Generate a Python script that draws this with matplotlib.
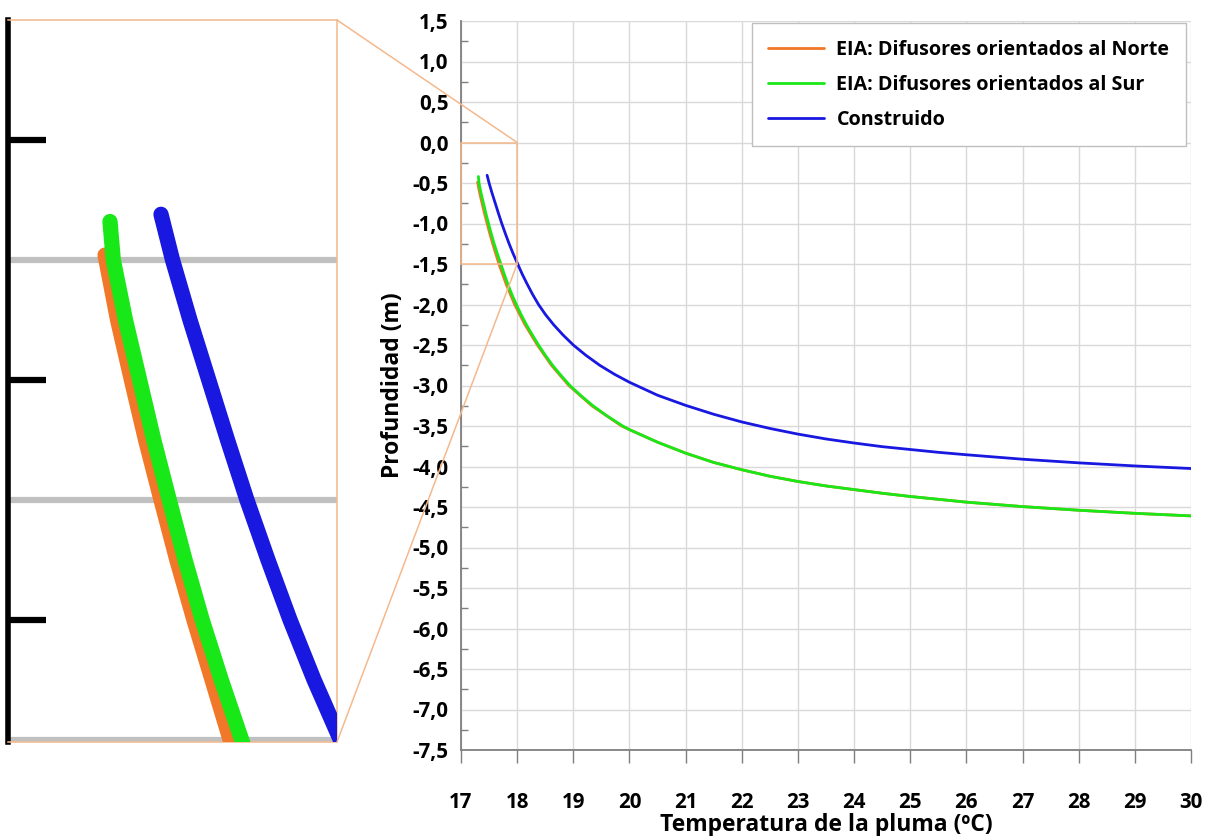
import matplotlib
matplotlib.use("Agg")
import matplotlib.pyplot as plt
from matplotlib.ticker import MultipleLocator, FixedLocator, FuncFormatter
from matplotlib.patches import Rectangle, ConnectionPatch
import numpy as np

plt.rcParams['font.family'] = ['Open Sans', 'DejaVu Sans']

# ---------------- data ----------------
norte_x = [17.295, 17.333, 17.375, 17.418, 17.465, 17.513, 17.565, 17.62, 17.675,
           17.805, 17.955, 18.14, 18.36, 18.61, 18.92, 19.33, 19.86, 20.0, 20.5,
           21.0, 21.5, 22.0, 22.5, 23.0, 23.5, 24.0, 24.5, 25.0, 25.5, 26.0,
           27.0, 28.0, 29.0, 30.0]
norte_y = [-0.49, -0.625, -0.75, -0.875, -1.00, -1.125, -1.25, -1.375, -1.50,
           -1.75, -2.00, -2.25, -2.50, -2.75, -3.00, -3.25, -3.50, -3.545, -3.70,
           -3.835, -3.95, -4.04, -4.12, -4.185, -4.24, -4.285, -4.33, -4.37, -4.405, -4.44,
           -4.495, -4.54, -4.578, -4.61]

sur_x = [17.31, 17.32, 17.357, 17.40, 17.443, 17.49, 17.538, 17.59, 17.648, 17.71,
         17.77, 17.835, 17.905, 17.985, 18.07, 18.165, 18.27, 18.38, 18.50, 18.63,
         18.78, 18.94, 19.135, 19.35, 19.60, 19.88, 20.0, 20.5, 21.0, 21.5, 22.0,
         22.5, 23.0, 23.5, 24.0, 24.5, 25.0, 25.5, 26.0, 27.0, 28.0, 29.0, 30.0]
sur_y = [-0.42, -0.50, -0.625, -0.75, -0.875, -1.00, -1.125, -1.25, -1.375, -1.50,
         -1.625, -1.75, -1.875, -2.00, -2.125, -2.25, -2.375, -2.50, -2.625, -2.75,
         -2.875, -3.00, -3.125, -3.25, -3.375, -3.50, -3.545, -3.70, -3.835, -3.95, -4.04,
         -4.12, -4.185, -4.24, -4.285, -4.33, -4.37, -4.405, -4.44, -4.495, -4.54, -4.578, -4.61]

cons_x = [17.465, 17.50, 17.553, 17.61, 17.667, 17.726, 17.79, 17.857, 17.93, 18.01,
          18.09, 18.18, 18.275, 18.38, 18.505, 18.65, 18.815, 19.0, 19.22, 19.47,
          19.73, 20.0, 20.5, 21.0, 21.5, 22.0, 22.5, 23.0, 23.5, 24.0, 24.5, 25.0,
          25.5, 26.0, 27.0, 28.0, 29.0, 30.0]
cons_y = [-0.405, -0.50, -0.625, -0.75, -0.875, -1.00, -1.125, -1.25, -1.375, -1.50,
          -1.625, -1.75, -1.875, -2.00, -2.125, -2.25, -2.375, -2.50, -2.625, -2.75,
          -2.86, -2.96, -3.12, -3.245, -3.355, -3.45, -3.53, -3.60, -3.66, -3.71, -3.755, -3.79,
          -3.825, -3.855, -3.91, -3.955, -3.993, -4.025]

labels = ["EIA: Difusores orientados al Norte",
          "EIA: Difusores orientados al Sur",
          "Construido"]
colors = ["#f07828", "#18e818", "#1818e0"]

xlim = (17, 30)
ylim = (-7.5, 1.5)
zoom_xlim = (17, 18)
zoom_ylim = (-1.505, 0.0)

# ---------------- figure ----------------
fig = plt.figure(figsize=(12.12, 8.36), dpi=100)
ax = fig.add_axes([461/1212, 1-750/836, 730/1212, 729/836])

series = [(norte_x, norte_y), (sur_x, sur_y), (cons_x, cons_y)]
for (xs, ys), c, lab in zip(series, colors, labels):
    ax.plot(xs, ys, color=c, lw=2.0, label=lab, solid_capstyle='round',
            solid_joinstyle='round', zorder=3)

ax.set_xlim(*xlim)
ax.set_ylim(*ylim)
ax.xaxis.set_major_locator(MultipleLocator(1))
ax.yaxis.set_major_locator(MultipleLocator(0.5))
ax.yaxis.set_minor_locator(FixedLocator(np.arange(-7.25, 1.5, 0.5)))

def comma_fmt(v, p):
    if abs(v) < 1e-9:
        v = 0.0
    return f"{v:.1f}".replace('.', ',')
ax.yaxis.set_major_formatter(FuncFormatter(comma_fmt))

ax.grid(True, which='major', color='#d9d9d9', lw=1.0, zorder=0)
ax.set_axisbelow(True)
for s in ['top', 'right']:
    ax.spines[s].set_visible(False)
for s in ['left', 'bottom']:
    ax.spines[s].set_color('#7f7f7f')
    ax.spines[s].set_linewidth(1.3)

ax.tick_params(axis='y', which='major', length=0, pad=9, labelsize=14.8)
ax.tick_params(axis='y', which='minor', direction='in', length=5, width=1, color='#7f7f7f')
ax.tick_params(axis='x', which='major', direction='out', length=9, width=1,
               color='#7f7f7f', pad=21, labelsize=14.8)
for t in ax.get_xticklabels() + ax.get_yticklabels():
    t.set_fontweight('bold')

ax.set_xlabel("Temperatura de la pluma (ºC)", fontsize=16.5, fontweight='bold', labelpad=0)
ax.set_ylabel("Profundidad (m)", fontsize=16.5, fontweight='bold', labelpad=5)

leg = ax.legend(loc='upper right', bbox_to_anchor=(0.9935, 0.997), borderaxespad=0,
                fancybox=False, framealpha=1, edgecolor='#bfbfbf',
                prop={'size': 14.2, 'weight': 'bold'},
                handlelength=2.8, handletextpad=0.65, labelspacing=0.75, borderpad=0.85)
leg.get_frame().set_linewidth(1.0)

# zoom rectangle
rect_col = '#f4b98c'
ax.add_patch(Rectangle((zoom_xlim[0], -1.5), zoom_xlim[1]-zoom_xlim[0], 1.5,
                       fill=False, edgecolor=rect_col, lw=1.1, zorder=5, clip_on=False))

# ---------------- inset ----------------
axi = fig.add_axes([8/1212, 1-742/836, 329/1212, 722/836])
for (xs, ys), c in zip(series, colors):
    axi.plot(xs, ys, color=c, lw=11, solid_capstyle='round',
             solid_joinstyle='round', zorder=3)
axi.set_xlim(*zoom_xlim)
axi.set_ylim(*zoom_ylim)
axi.set_xticks([])
axi.yaxis.set_major_locator(FixedLocator([-0.5, -1.0, -1.5]))
axi.yaxis.set_minor_locator(FixedLocator([-0.25, -0.75, -1.25]))
axi.yaxis.grid(True, which='major', color='#c0c0c0', lw=4.5, zorder=1)
axi.tick_params(axis='y', which='major', length=0, labelleft=False)
axi.tick_params(axis='y', which='minor', direction='in', length=27, width=4.5, color='black')
axi.spines['left'].set_color('black')
axi.spines['left'].set_linewidth(4)
for s in ['top', 'right', 'bottom']:
    axi.spines[s].set_color(rect_col)
    axi.spines[s].set_linewidth(1.1)

# connectors
for yi, ym in [(1.0, 0.0), (0.0, -1.5)]:
    cp = ConnectionPatch(xyA=(1.0, yi), coordsA=axi.transAxes,
                         xyB=(zoom_xlim[1], ym), coordsB=ax.transData,
                         color=rect_col, lw=1.1, zorder=10)
    fig.add_artist(cp)

fig.savefig("out.png", dpi=100)
